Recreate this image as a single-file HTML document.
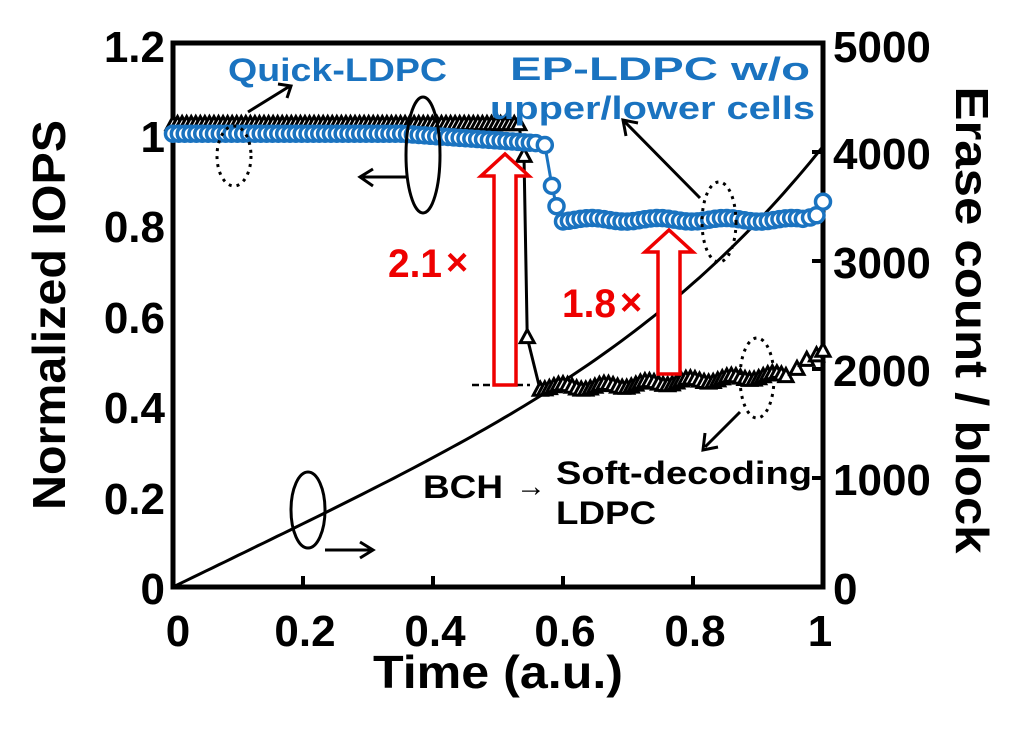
<!DOCTYPE html>
<html><head><meta charset="utf-8"><style>
html,body{margin:0;padding:0;background:#fff;}
svg{display:block;}
text{font-family:"Liberation Sans",Arial,sans-serif;font-weight:bold;}
</style></head><body>
<svg id="s" width="1024" height="729" viewBox="0 0 1024 729" xmlns="http://www.w3.org/2000/svg">
<rect x="173" y="43" width="650" height="544" fill="none" stroke="#000" stroke-width="5"/>
<g stroke="#000" stroke-width="4">
<line x1="303" y1="587" x2="303" y2="576"/><line x1="433" y1="587" x2="433" y2="576"/><line x1="563" y1="587" x2="563" y2="576"/><line x1="693" y1="587" x2="693" y2="576"/>
<line x1="823" y1="478" x2="812" y2="478"/><line x1="823" y1="369" x2="812" y2="369"/><line x1="823" y1="261" x2="812" y2="261"/><line x1="823" y1="152" x2="812" y2="152"/>
</g>
<g font-size="44" text-anchor="end">
<text x="165" y="604">0</text><text x="165" y="514">0.2</text><text x="165" y="423">0.4</text><text x="165" y="333">0.6</text><text x="165" y="242">0.8</text><text x="165" y="152">1</text><text x="165" y="62">1.2</text>
</g>
<g font-size="44" text-anchor="start">
<text x="833" y="604">0</text><text x="833" y="495">1000</text><text x="833" y="386">2000</text><text x="833" y="278">3000</text><text x="833" y="169">4000</text><text x="833" y="62">5000</text>
</g>
<g font-size="44" text-anchor="middle">
<text x="178" y="646">0</text><text x="305" y="646">0.2</text><text x="435" y="646">0.4</text><text x="565" y="646">0.6</text><text x="695" y="646">0.8</text><text x="820" y="646">1</text>
</g>
<text x="373" y="688" font-size="46" textLength="250" lengthAdjust="spacingAndGlyphs">Time (a.u.)</text>
<text transform="translate(65,315) rotate(-90)" font-size="46" text-anchor="middle" textLength="390" lengthAdjust="spacingAndGlyphs">Normalized IOPS</text>
<text transform="translate(956,320) rotate(90)" font-size="46" text-anchor="middle" textLength="467" lengthAdjust="spacingAndGlyphs">Erase count / block</text>
<path id="erase" fill="none" stroke="#000" stroke-width="3"/>
<g id="tri"></g>
<g id="blue"></g>
<line x1="472" y1="385" x2="530" y2="385" stroke="#000" stroke-width="2.5" stroke-dasharray="7,4"/>
<path d="M494,385 L494,176 L481,176 L505,154 L529,176 L516,176 L516,385 Z" fill="#fff" stroke="#e00" stroke-width="3.5"/>
<path d="M658,374 L658,252 L645,252 L669,230 L693,252 L680,252 L680,374 Z" fill="#fff" stroke="#e00" stroke-width="3.5"/>
<text x="388" y="277" font-size="40" fill="#e00" textLength="54" lengthAdjust="spacingAndGlyphs">2.1</text><text x="446" y="275" font-size="38" fill="#e00" font-weight="normal">×</text>
<text x="562" y="317" font-size="40" fill="#e00" textLength="54" lengthAdjust="spacingAndGlyphs">1.8</text><text x="620" y="315" font-size="38" fill="#e00" font-weight="normal">×</text>
<text x="228" y="81" font-size="32" fill="#1a73c0" textLength="219" lengthAdjust="spacingAndGlyphs">Quick-LDPC</text>
<text x="510" y="80" font-size="32" fill="#1a73c0" textLength="300" lengthAdjust="spacingAndGlyphs">EP-LDPC w/o</text>
<text x="490" y="119" font-size="32" fill="#1a73c0" textLength="325" lengthAdjust="spacingAndGlyphs">upper/lower cells</text>
<text x="423" y="498" font-size="32" textLength="80" lengthAdjust="spacingAndGlyphs">BCH</text>
<text x="516" y="496" font-size="30" font-weight="normal">→</text>
<text x="556" y="484" font-size="32" textLength="256" lengthAdjust="spacingAndGlyphs">Soft-decoding</text>
<text x="556" y="524" font-size="32" textLength="100" lengthAdjust="spacingAndGlyphs">LDPC</text>
<g fill="none" stroke="#000" stroke-width="3">
<ellipse cx="234" cy="156" rx="17" ry="30" stroke-dasharray="3,5"/>
<ellipse cx="423" cy="155" rx="17" ry="58"/>
<ellipse cx="719" cy="222" rx="17" ry="40" stroke-dasharray="3,5"/>
<ellipse cx="757" cy="378" rx="17" ry="40" stroke-dasharray="3,5"/>
<ellipse cx="308" cy="510" rx="17" ry="38"/>
<path d="M248,112 L290,86 M278,84 L291,86 L287,98"/>
<path d="M406,177 L363,177 M373,169 L360,177 L373,186"/>
<path d="M700,198 L625,122 M626,136 L623,120 L638,123"/>
<path d="M740,412 L705,447 M705,433 L703,450 L718,447"/>
<path d="M325,550 L370,550 M360,542 L373,550 L360,558"/>
</g>
</svg>
<script>
var X=function(t){return 173+650*t},Y=function(v){return 587-453.3*v},R=function(c){return 587-c*0.1088};
var d="";for(var i=0;i<=100;i++){var t=i/100;var c=2900*t+1150*Math.pow(t,4);d+=(i?"L":"M")+X(t).toFixed(1)+","+R(c).toFixed(1);}
document.getElementById("erase").setAttribute("d",d);
var ns="http://www.w3.org/2000/svg";
function el(p,n,a){var e=document.createElementNS(ns,n);for(var k in a)e.setAttribute(k,a[k]);p.appendChild(e);return e;}
var tp=[];for(var t=0;t<=0.535;t+=0.007)tp.push([t,1.02]);
tp.push([0.54,0.95]);tp.push([0.545,0.55]);
for(var t=0.565;t<=0.95;t+=0.007){var v=0.44+(t>0.65?(t-0.65)*0.09:0)+(Math.sin(t*97)*0.006);tp.push([t,v]);}
tp.push([0.96,0.48]);tp.push([0.975,0.5]);tp.push([0.99,0.51]);tp.push([1.0,0.52]);
var g=document.getElementById("tri");
var pd="";tp.forEach(function(p,i){pd+=(i?"L":"M")+X(p[0])+","+Y(p[1]);});
el(g,"path",{d:pd,fill:"none",stroke:"#000","stroke-width":3});
tp.forEach(function(p){var x=X(p[0]),y=Y(p[1]);el(g,"path",{d:"M"+x+","+(y-8)+"L"+(x+7)+","+(y+5)+"L"+(x-7)+","+(y+5)+"Z",fill:"#fff",stroke:"#000","stroke-width":3});});
var bp=[];for(var t=0;t<=0.56;t+=0.009){var v=1.0-(t>0.35?(t-0.35)*0.1:0);bp.push([t,v]);}
bp.push([0.572,0.975]);bp.push([0.583,0.885]);bp.push([0.59,0.84]);
for(var t=0.6;t<=0.97;t+=0.009){var v=0.81+Math.sin(t*61)*0.004;bp.push([t,v]);}
bp.push([0.98,0.815]);bp.push([0.99,0.82]);bp.push([1.0,0.85]);
g=document.getElementById("blue");
pd="";bp.forEach(function(p,i){pd+=(i?"L":"M")+X(p[0])+","+Y(p[1]);});
el(g,"path",{d:pd,fill:"none",stroke:"#1a73c0","stroke-width":3});
bp.forEach(function(p){el(g,"circle",{cx:X(p[0]),cy:Y(p[1]),r:7.5,fill:"#fff",stroke:"#1a73c0","stroke-width":3.5});});
</script>
</body></html>
